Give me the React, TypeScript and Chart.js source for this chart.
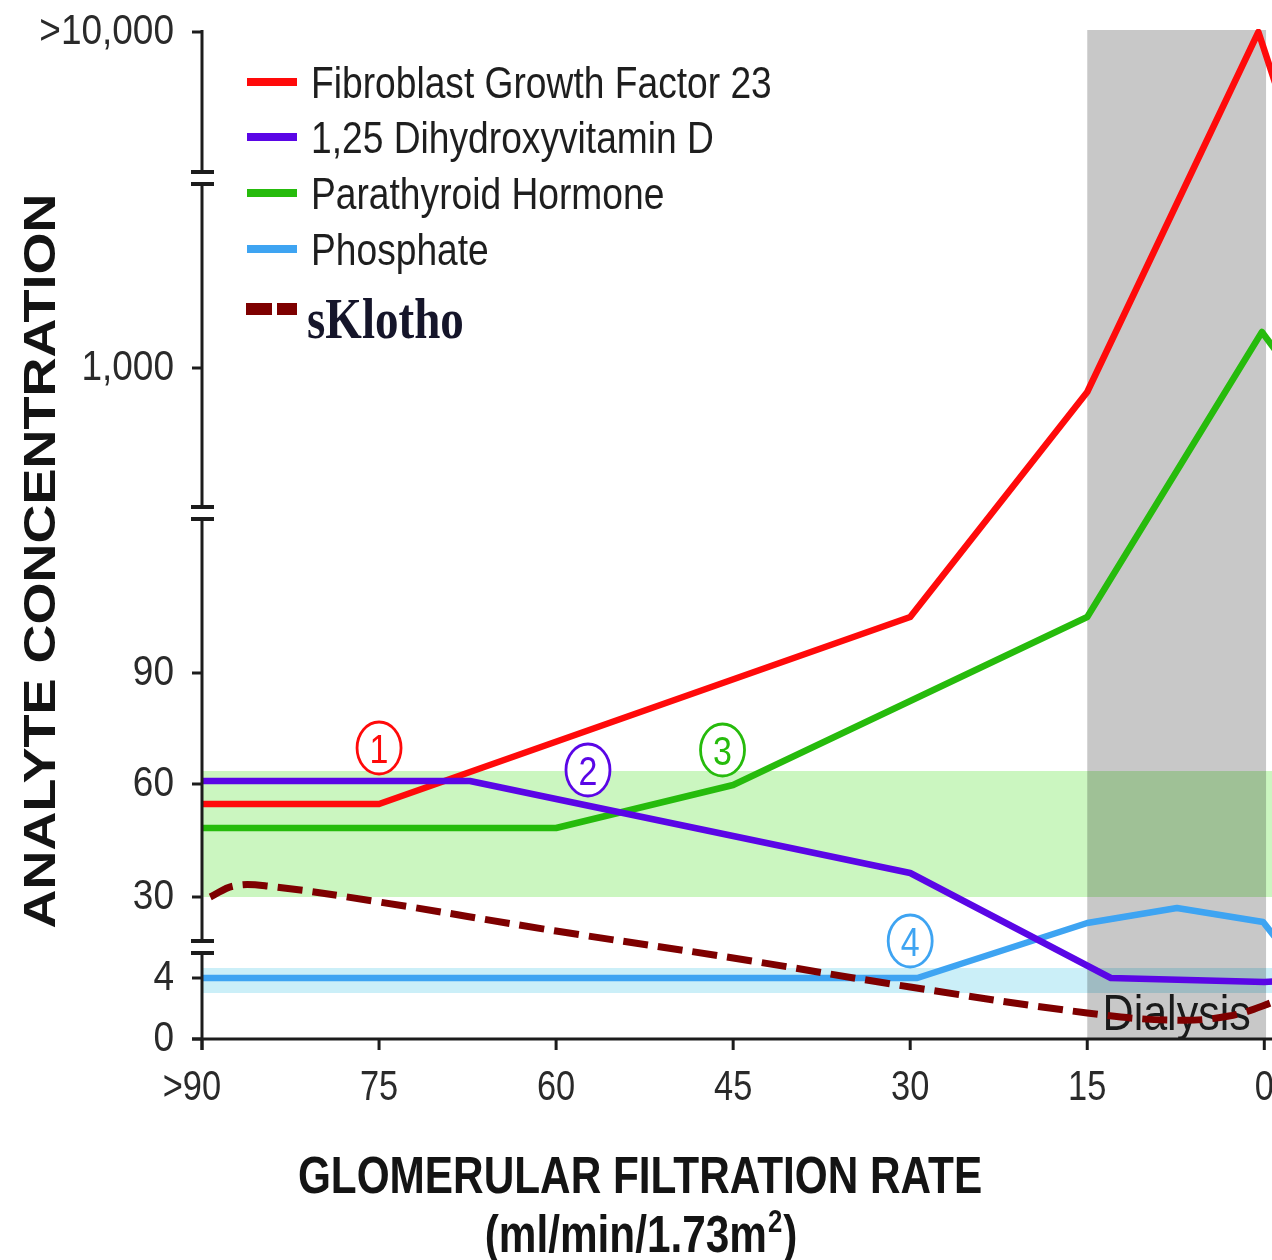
import React, { useEffect, useRef } from "react";
import { Chart, registerables } from "chart.js";

Chart.register(...registerables);

// ---- Data (schematic, broken y axis: values are axis levels; tick labels name the concentration) ----
const gfrTicks = [90, 75, 60, 45, 30, 15, 0];
const gfrTickLabels = [">90", "75", "60", "45", "30", "15", "0"];
const levelTicks = [0, 61, 142, 255, 366, 671, 1007];
const levelTickLabels = ["0", "4", "30", "60", "90", "1,000", ">10,000"];
const axisBreaks = [92, 526, 861];

const fgf23GFR = [90, 75, 30, 15, 0.5, -1.5];
const fgf23Level = [235, 235, 422, 647, 1007, 935];

const vitDGFR = [90, 67.3, 30, 13, 0, -1.5];
const vitDLevel = [258, 258, 166, 61, 57, 58];

const pthGFR = [90, 60, 45, 15, 0.2, -1.5];
const pthLevel = [211, 211, 254, 422, 707, 680];

const phosGFR = [90, 29.4, 15, 7.4, 0.1, -1.5];
const phosLevel = [61, 61, 116, 131, 117, 93];

const klothoGFR = [89.3, 87.3, 84.5, 75, 60, 45, 30, 15, 8, 3, -1.5];
const klothoLevel = [142, 153, 153, 137, 108, 81, 52, 26, 19, 23, 40];

const normalRange = [142, 268];
const phosphateRange = [46, 71];
const dialysisRange = [15, -0.15];
const dialysisLabel = "Dialysis";

const markerLabels = ["1", "2", "3", "4"];
const markerGFR = [75, 57.3, 45.9, 30];
const markerLevel = [291, 269, 289, 98];

const seriesNames = [
  "Fibroblast Growth Factor 23",
  "1,25 Dihydroxyvitamin D",
  "Parathyroid Hormone",
  "Phosphate",
  "sKlotho",
];

// ---- Styles ----
const RED = "#ff0a0a";
const PURPLE = "#5a06e6";
const GREEN = "#26bb0c";
const BLUE = "#3ea4f2";
const KLOTHO = "#7e0000";
const AXIS = "#1c1c1c";
const TEXT = "#1e1e1e";
const SANS = '"Liberation Sans", Arial, sans-serif';
const SERIF = '"Liberation Serif", "Times New Roman", serif';

function toXY(xs: number[], ys: number[]) {
  return xs.map((x, i) => ({ x, y: ys[i] }));
}

function drawText(
  ctx: CanvasRenderingContext2D,
  str: string,
  x: number,
  y: number,
  font: string,
  sx: number,
  align: CanvasTextAlign,
  color: string,
  baseline: CanvasTextBaseline = "alphabetic",
  rot = 0
) {
  ctx.save();
  ctx.translate(x, y);
  if (rot) ctx.rotate(rot);
  ctx.scale(sx, 1);
  ctx.font = font;
  ctx.textAlign = align;
  ctx.textBaseline = baseline;
  ctx.fillStyle = color;
  ctx.fillText(str, 0, 0);
  ctx.restore();
}

const backgroundPlugin = {
  id: "bands",
  beforeDatasetsDraw(chart: any) {
    const { ctx, chartArea } = chart;
    const xs = chart.scales.x;
    const ys = chart.scales.y;
    const left = xs.getPixelForValue(90);
    ctx.save();
    // normal range band
    ctx.fillStyle = "#cbf6c0";
    ctx.fillRect(left, ys.getPixelForValue(normalRange[1]), chartArea.right - left,
      ys.getPixelForValue(normalRange[0]) - ys.getPixelForValue(normalRange[1]));
    // phosphate range band
    ctx.fillStyle = "#cbeff8";
    ctx.fillRect(left, ys.getPixelForValue(phosphateRange[1]), chartArea.right - left,
      ys.getPixelForValue(phosphateRange[0]) - ys.getPixelForValue(phosphateRange[1]));
    // dialysis region
    const dx0 = xs.getPixelForValue(dialysisRange[0]);
    const dx1 = xs.getPixelForValue(dialysisRange[1]);
    ctx.fillStyle = "rgba(0,0,0,0.215)";
    ctx.fillRect(dx0, ys.getPixelForValue(1009), dx1 - dx0, ys.getPixelForValue(0) - ys.getPixelForValue(1009));
    drawText(ctx, dialysisLabel, (dx0 + dx1) / 2, ys.getPixelForValue(0) - 9,
      `50px ${SANS}`, 0.86, "center", "#1a1a1a");
    ctx.restore();
  },
  afterDatasetsDraw(chart: any) {
    const { ctx, chartArea } = chart;
    const xs = chart.scales.x;
    const ys = chart.scales.y;
    ctx.save();
    // numbered markers
    const mColors = [RED, PURPLE, GREEN, BLUE];
    markerLabels.forEach((lab, i) => {
      const cx = xs.getPixelForValue(markerGFR[i]);
      const cy = ys.getPixelForValue(markerLevel[i]);
      ctx.beginPath();
      ctx.ellipse(cx, cy, 22, 26, 0, 0, Math.PI * 2);
      ctx.fillStyle = "#ffffff";
      ctx.fill();
      ctx.lineWidth = 2.8;
      ctx.strokeStyle = mColors[i];
      ctx.stroke();
      drawText(ctx, lab, cx, cy + 15, `40px ${SANS}`, 0.85, "center", mColors[i]);
    });

    // axes
    const ax = xs.getPixelForValue(90);
    const y0 = ys.getPixelForValue(0);
    const yTop = ys.getPixelForValue(1009);
    ctx.strokeStyle = AXIS;
    ctx.lineWidth = 3;
    ctx.lineCap = "butt";
    // y axis with breaks
    const segs: number[] = [y0 + 11];
    axisBreaks.forEach((b) => {
      const py = ys.getPixelForValue(b);
      segs.push(py + 6, py - 6);
    });
    segs.push(yTop);
    for (let i = 0; i < segs.length; i += 2) {
      ctx.beginPath();
      ctx.moveTo(ax, segs[i]);
      ctx.lineTo(ax, segs[i + 1]);
      ctx.stroke();
    }
    // break marks
    ctx.lineWidth = 4;
    axisBreaks.forEach((b) => {
      const py = ys.getPixelForValue(b);
      [py - 6, py + 6].forEach((yy) => {
        ctx.beginPath();
        ctx.moveTo(ax - 11, yy);
        ctx.lineTo(ax + 12, yy);
        ctx.stroke();
      });
    });
    // x axis
    ctx.lineWidth = 3;
    ctx.beginPath();
    ctx.moveTo(ax - 10, y0);
    ctx.lineTo(chartArea.right + 20, y0);
    ctx.stroke();
    // y ticks + labels
    levelTicks.forEach((v, i) => {
      const py = ys.getPixelForValue(v);
      ctx.beginPath();
      ctx.moveTo(ax - 10, py);
      ctx.lineTo(ax, py);
      ctx.stroke();
      drawText(ctx, levelTickLabels[i], ax - 28, py, `43px ${SANS}`, 0.86, "right", "#2a2a2a", "middle");
    });
    // x ticks + labels
    gfrTicks.forEach((v, i) => {
      const px = xs.getPixelForValue(v);
      ctx.beginPath();
      ctx.moveTo(px, y0);
      ctx.lineTo(px, y0 + 11);
      ctx.stroke();
      let lab = gfrTickLabels[i];
      let cx = px;
      if (lab.startsWith(">")) {
        ctx.font = `43px ${SANS}`;
        const wg = ctx.measureText(">").width * 0.8;
        cx = px - wg / 2;
      }
      drawText(ctx, lab, cx, y0 + 49, `43px ${SANS}`, 0.8, "center", "#2a2a2a", "middle");
    });

    // legend
    const legColors = [RED, PURPLE, GREEN, BLUE];
    const legY = [82, 137, 193, 249];
    legColors.forEach((c, i) => {
      ctx.fillStyle = c;
      ctx.fillRect(247, legY[i] - 4, 50, 8);
      drawText(ctx, seriesNames[i], 311, legY[i] + 16, `44px ${SANS}`, 0.845, "left", TEXT);
    });
    ctx.fillStyle = KLOTHO;
    ctx.fillRect(246, 303, 26, 12);
    ctx.fillRect(277, 303, 20, 12);
    drawText(ctx, seriesNames[4], 307, 338, `bold 56px ${SERIF}`, 0.84, "left", "#15152a");

    // axis titles
    drawText(ctx, "ANALYTE CONCENTRATION", 55, 561, `bold 45px ${SANS}`, 1.2, "center", "#141414", "alphabetic", -Math.PI / 2);
    drawText(ctx, "GLOMERULAR FILTRATION RATE", 640, 1193, `bold 51px ${SANS}`, 0.83, "center", "#141414");
    const f1 = `bold 51px ${SANS}`;
    const f2 = `bold 31px ${SANS}`;
    const sx = 0.83;
    ctx.font = f1;
    const w1 = ctx.measureText("(ml/min/1.73m").width * sx;
    const w3 = ctx.measureText(")").width * sx;
    ctx.font = f2;
    const w2 = ctx.measureText("2").width * sx;
    let start = 640 - (w1 + w2 + w3) / 2;
    drawText(ctx, "(ml/min/1.73m", start, 1252, f1, sx, "left", "#141414");
    drawText(ctx, "2", start + w1 + 1, 1232, f2, sx, "left", "#141414");
    drawText(ctx, ")", start + w1 + w2 + 2, 1252, f1, sx, "left", "#141414");
    ctx.restore();
  },
};

export default function App() {
  const ref = useRef<HTMLCanvasElement>(null);
  useEffect(() => {
    if (!ref.current) return;
    const W = 1300;
    const H = 1260;
    const chart = new Chart(ref.current, {
      type: "line",
      data: {
        datasets: [
          {
            label: seriesNames[4],
            data: toXY(klothoGFR, klothoLevel),
            borderColor: KLOTHO,
            borderWidth: 7,
            borderDash: [25, 10],
            tension: 0.4,
            pointRadius: 0,
            fill: false,
            order: 1,
          },
          {
            label: seriesNames[1],
            data: toXY(vitDGFR, vitDLevel),
            borderColor: PURPLE,
            borderWidth: 6.5,
            pointRadius: 0,
            borderJoinStyle: "round",
            order: 2,
          },
          {
            label: seriesNames[0],
            data: toXY(fgf23GFR, fgf23Level),
            borderColor: RED,
            borderWidth: 6.5,
            pointRadius: 0,
            borderJoinStyle: "round",
            order: 3,
          },
          {
            label: seriesNames[2],
            data: toXY(pthGFR, pthLevel),
            borderColor: GREEN,
            borderWidth: 6.5,
            pointRadius: 0,
            borderJoinStyle: "round",
            order: 4,
          },
          {
            label: seriesNames[3],
            data: toXY(phosGFR, phosLevel),
            borderColor: BLUE,
            borderWidth: 6.5,
            pointRadius: 0,
            borderJoinStyle: "round",
            order: 5,
          },
        ],
      },
      options: {
        responsive: false,
        animation: false,
        devicePixelRatio: 1,
        events: [],
        layout: { padding: { left: 202, right: W - 1282, top: 29, bottom: H - 1039 } },
        scales: {
          x: { type: "linear", reverse: true, min: -1.5, max: 90, display: false },
          y: { type: "linear", min: 0, max: 1010, display: false },
        },
        plugins: { legend: { display: false }, tooltip: { enabled: false } },
      },
      plugins: [backgroundPlugin],
    } as any);
    return () => chart.destroy();
  }, []);
  return (
    <div style={{ position: "absolute", left: 0, top: 0, width: 1272, height: 1260, overflow: "hidden", background: "#fff" }}>
      <canvas ref={ref} width={1300} height={1260} style={{ display: "block", width: 1300, height: 1260 }} />
    </div>
  );
}
